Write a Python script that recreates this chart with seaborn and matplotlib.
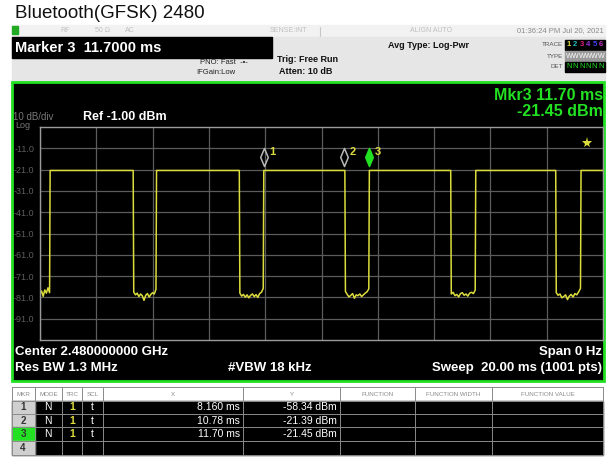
import numpy as np
import matplotlib.pyplot as plt
from matplotlib.patches import Rectangle
from matplotlib.path import Path
import seaborn as sns

# zero-span sweep settings
sweep_ms = 20.0
ref_dbm = -1.0
db_per_div = 10
y_tick_dbm = [-11.0, -21.0, -31.0, -41.0, -51.0, -61.0, -71.0, -81.0, -91.0]

# burst edges
high_dbm = -21.4
rise_ms = [0.36, 4.14, 7.95, 11.70, 15.48, 19.22]
fall_ms = [3.31, 7.08, 10.83, 14.59, 18.32]

# noise floor between bursts
gap0 = [-79.5, -78.0, -80.5, -77.5, -79.0, -76.5, -78.8]
gap1 = [-78.5, -79.8, -79.0, -80.6, -79.4, -80.2, -82.4, -80.0, -79.2, -80.8, -79.6, -78.8, -79.4, -77.2]
gap2 = [-79.0, -80.4, -79.6, -80.9, -79.8, -81.2, -80.0, -79.4, -80.6, -79.7, -81.0, -79.2, -78.6, -76.8]
gap3 = [-78.2, -79.6, -80.8, -80.0, -79.2, -81.4, -79.8, -80.2, -79.4, -80.6, -79.8, -79.0, -78.4, -77.0]
gap4 = [-79.4, -78.6, -80.2, -79.6, -80.8, -79.2, -78.8, -80.0, -79.4, -80.4, -79.0, -78.6, -79.2, -77.6]
gap5 = [-78.8, -80.0, -79.4, -81.2, -80.6, -79.8, -82.0, -80.4, -79.6, -80.8, -79.2, -79.8, -78.4, -76.8]
gaps = [gap0, gap1, gap2, gap3, gap4, gap5]

# markers (position on screen) + marker table
marker_ms = [7.95, 10.80, 11.70]
marker_names = ["1", "2", "3"]
marker_draw_dbm = -15.2
star_ms = 19.43
star_dbm = -8.5
mkr_mode = ["N", "N", "N"]
mkr_trc = ["1", "1", "1"]
mkr_scl = ["t", "t", "t"]
mkr_x_text = ["8.160 ms", "10.78 ms", "11.70 ms"]
mkr_y_text = ["-58.34 dBm", "-21.39 dBm", "-21.45 dBm"]
table_headers = ["MKR", "MODE", "TRC", "SCL", "X", "Y", "FUNCTION", "FUNCTION WIDTH", "FUNCTION VALUE"]

YELLOW = "#dcdc3c"
GREEN = "#22e022"

# build trace
trace_t, trace_v = [], []
for i, gap in enumerate(gaps):
    start = 0.0 if i == 0 else fall_ms[i - 1] + 0.02
    if i > 0:
        trace_t.append(fall_ms[i - 1])
        trace_v.append(high_dbm)
    trace_t += list(np.linspace(start, rise_ms[i] - 0.02, len(gap)))
    trace_v += gap
    trace_t.append(rise_ms[i])
    trace_v.append(high_dbm)
trace_t.append(sweep_ms)
trace_v.append(high_dbm)

sns.set_theme(style="dark")
plt.rcParams['font.family'] = ['Liberation Sans', 'DejaVu Sans']

W, H = 610, 458
fig = plt.figure(figsize=(6.1, 4.58), dpi=100)
fig.patch.set_facecolor("white")

# background axes in pixel coords for the instrument frame
bg = fig.add_axes([0, 0, 1, 1])
bg.set_xlim(0, W)
bg.set_ylim(H, 0)
bg.axis("off")


def rect(x0, y0, x1, y1, **kw):
    bg.add_patch(Rectangle((x0, y0), x1 - x0, y1 - y0, **kw))


bg.text(15, 14, "Bluetooth(GFSK) 2480", fontsize=13.5, color="#111111", va="center")

# top status strip
rect(12, 25, 605, 37, color="#f2f2f2")
rect(12, 26, 18, 34, color="#22aa22")
for x, s in [(60, "RF"), (95, "50 Ω"), (125, "AC"), (270, "SENSE:INT"), (410, "ALIGN AUTO")]:
    bg.text(x, 31, s, fontsize=5, color="#c0c0c0", va="center")
bg.plot([320, 320], [27, 36], color="#c8c8c8", lw=0.8)
bg.text(604, 31, "01:36:24 PM Jul 20, 2021", fontsize=5.5, color="#8a8a8a", va="center", ha="right")

# settings panel
rect(12, 37, 605, 81, color="#e6e6e6")
rect(12, 37, 272, 58, color="black")
bg.text(15, 47.5, "Marker 3  11.7000 ms", fontsize=10.5, color="white", weight="bold", va="center")
bg.text(200, 62, "PNO: Fast  -•-", fontsize=5.5, color="#222222", va="center")
bg.text(196, 73, "IFGain:Low", fontsize=5.5, color="#222222", va="center")
bg.text(277, 60, "Trig: Free Run", fontsize=6.5, color="#111111", weight="bold", va="center")
bg.text(279, 72, "Atten: 10 dB", fontsize=6.5, color="#111111", weight="bold", va="center")
bg.text(388, 46, "Avg Type: Log-Pwr", fontsize=6.5, color="#111111", weight="bold", va="center")
bg.text(563, 45, "TRACE", fontsize=4.5, color="#555555", va="center", ha="right")
bg.text(563, 56, "TYPE", fontsize=4.5, color="#555555", va="center", ha="right")
bg.text(563, 67, "DET", fontsize=4.5, color="#555555", va="center", ha="right")
rect(565, 40, 605, 50, color="black")
rect(565, 51, 605, 61, color="#9a9a9a")
rect(565, 62, 605, 72, color="black")
for k, c in enumerate(["#e0e040", "#20c0c0", "#e02080", "#a030e0", "#4040ff", "#c030c0"]):
    bg.text(569 + k * 6.4, 45, str(k + 1), fontsize=5.5, color=c, weight="bold", va="center", ha="center")
    bg.text(569 + k * 6.4, 56, "W", fontsize=5, color="white", va="center", ha="center")
    bg.text(569 + k * 6.4, 67, "N", fontsize=5.5, color=GREEN, va="center", ha="center")

# screen
rect(12, 82, 604, 381, facecolor="black", edgecolor=GREEN, lw=2)
bg.text(603, 95, "Mkr3 11.70 ms", fontsize=11.5, color=GREEN, weight="bold", va="center", ha="right")
bg.text(603, 112, "-21.45 dBm", fontsize=11.5, color=GREEN, weight="bold", va="center", ha="right")
bg.text(13, 117, "10 dB/div", fontsize=7, color="#777777", va="center")
bg.text(15, 126, "Log", fontsize=6.5, color="#777777", va="center")
bg.text(83, 117, "Ref -1.00 dBm", fontsize=9, color="white", weight="bold", va="center")
bg.text(15, 352, "Center 2.480000000 GHz", fontsize=9.5, color="white", weight="bold", va="center")
bg.text(15, 368, "Res BW 1.3 MHz", fontsize=9.5, color="white", weight="bold", va="center")
bg.text(228, 368, "#VBW 18 kHz", fontsize=9.5, color="white", weight="bold", va="center")
bg.text(602, 352, "Span 0 Hz", fontsize=9.5, color="white", weight="bold", va="center", ha="right")
bg.text(602, 368, "Sweep  20.00 ms (1001 pts)", fontsize=9.5, color="white", weight="bold", va="center", ha="right")

# marker table
col_x = [12, 35, 62, 82, 103, 243, 340, 415, 492, 603]
row_y = [387, 401, 414, 427, 441, 455]
rect(12, row_y[0], 603, row_y[1], color="white")
rect(12, row_y[1], 603, row_y[-1], color="black")
for r in range(4):
    rect(col_x[0], row_y[r + 1], col_x[1], row_y[r + 2], color=GREEN if r == 2 else "#cfcfcf")
for x in col_x:
    bg.plot([x, x], [row_y[0], row_y[-1]], color="#8a8a8a", lw=0.7)
for y in row_y:
    bg.plot([12, 603], [y, y], color="#8a8a8a", lw=0.7)
for k, h in enumerate(table_headers):
    bg.text((col_x[k] + col_x[k + 1]) / 2, (row_y[0] + row_y[1]) / 2, h, fontsize=4.5,
            color="#8a8a8a", va="center", ha="center")
for r in range(4):
    yc = (row_y[r + 1] + row_y[r + 2]) / 2
    bg.text(23, yc, str(r + 1), fontsize=7, color="#333333", weight="bold", va="center", ha="center")
    if r < 3:
        bg.text(48, yc, mkr_mode[r], fontsize=7.5, color="white", va="center", ha="center")
        bg.text(72, yc, mkr_trc[r], fontsize=7.5, color=YELLOW, weight="bold", va="center", ha="center")
        bg.text(92, yc, mkr_scl[r], fontsize=7.5, color="white", va="center", ha="center")
        bg.text(240, yc, mkr_x_text[r], fontsize=7.5, color="white", va="center", ha="right")
        bg.text(337, yc, mkr_y_text[r], fontsize=7.5, color="white", va="center", ha="right")

# graticule + trace
ax = fig.add_axes([40 / W, (H - 340) / H, (603 - 40) / W, (340 - 127) / H])
ax.set_facecolor("black")
sns.lineplot(x=trace_t, y=trace_v, sort=False, estimator=None, color=YELLOW, lw=1.1, ax=ax)
ax.set_xlim(0, sweep_ms)
ax.set_ylim(ref_dbm - 10 * db_per_div, ref_dbm)
ax.set_xticks(np.arange(0, sweep_ms + 0.01, 2))
ax.set_xticklabels([])
ax.set_yticks(y_tick_dbm)
ax.set_yticklabels([f"{v:.1f}" for v in y_tick_dbm], fontsize=6.5, color="#5e5e5e")
ax.tick_params(length=0, pad=4)
ax.grid(True, color="#5c5c5c", lw=0.9)
ax.set_xlabel("")
ax.set_ylabel("")
for s in ax.spines.values():
    s.set_color("#9a9a9a")
    s.set_linewidth(1.0)

diamond = Path([(0, -1), (0.42, 0), (0, 1), (-0.42, 0), (0, -1)],
               [Path.MOVETO, Path.LINETO, Path.LINETO, Path.LINETO, Path.CLOSEPOLY])
for k, (t, name) in enumerate(zip(marker_ms, marker_names)):
    active = k == 2
    ax.plot([t], [marker_draw_dbm], marker=diamond, markersize=13,
            markerfacecolor=GREEN if active else "none",
            markeredgecolor=GREEN if active else "#b8b8b8", markeredgewidth=1.1)
    ax.annotate(name, (t, marker_draw_dbm), xytext=(4, 4), textcoords="offset points",
                fontsize=8, color=YELLOW, weight="bold", va="center")
ax.plot([star_ms], [star_dbm], marker="*", markersize=8, color=YELLOW, markeredgewidth=0)

fig.savefig("out.png", dpi=100)
